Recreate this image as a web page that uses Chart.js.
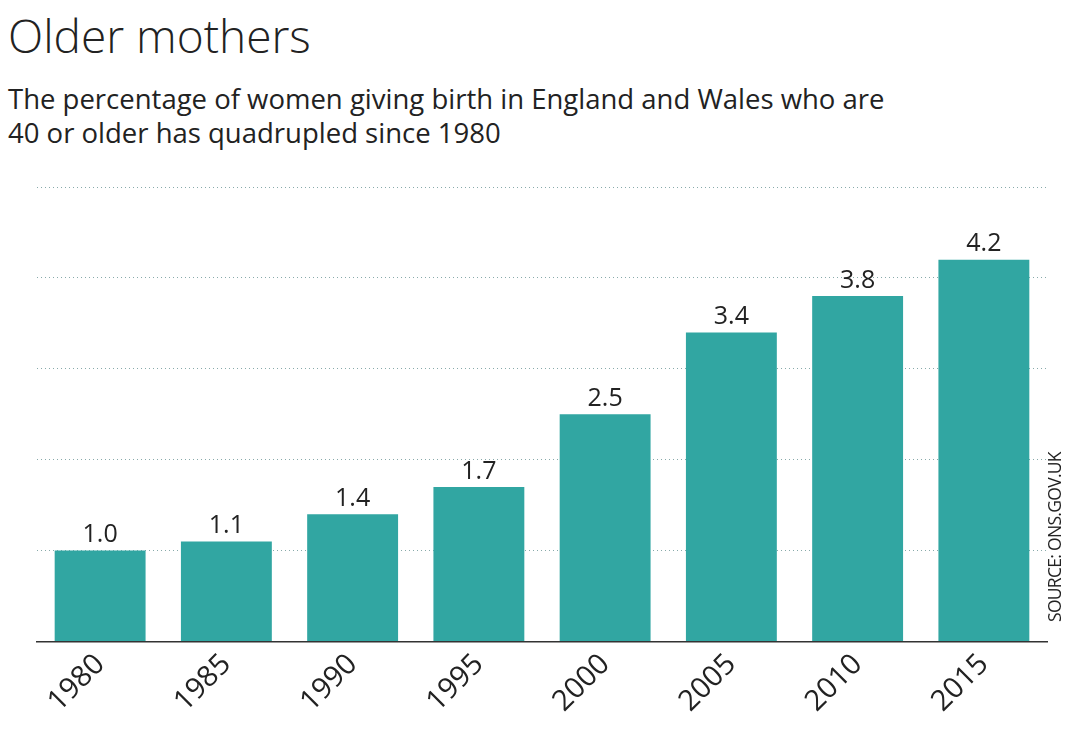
<!DOCTYPE html>
<html><head><meta charset="utf-8">
<script src="https://cdn.jsdelivr.net/npm/chart.js@4"></script>
<style>
body{margin:0;background:#fff;font-family:"Open Sans",sans-serif;color:#222;}
#wrap{position:relative;width:1075px;height:755px;}
h1{position:absolute;left:8px;top:4px;margin:0;font-weight:300;font-size:46px;color:#222;}
.sub{position:absolute;left:8px;top:82px;font-size:27.5px;line-height:34px;color:#222;}
.src{position:absolute;left:1042px;top:622px;transform:rotate(-90deg);transform-origin:0 0;font-size:17.5px;color:#222;white-space:nowrap;letter-spacing:-0.7px;}
#c{position:absolute;left:0;top:0;}
</style></head><body>
<div id="wrap">
<h1>Older mothers</h1>
<div class="sub">The percentage of women giving birth in England and Wales who are<br>40 or older has quadrupled since 1980</div>
<canvas id="c" width="1075" height="755"></canvas>
<div class="src">SOURCE: ONS.GOV.UK</div>
</div>
<script>
const years = ['1980', '1985', '1990', '1995', '2000', '2005', '2010', '2015'];
const shares = [1.0, 1.1, 1.4, 1.7, 2.5, 3.4, 3.8, 4.2];

// Value labels above bars
const valueLabels = {
  id: 'valueLabels',
  afterDatasetsDraw(chart) {
    const ctx = chart.ctx;
    ctx.save();
    ctx.font = '25px "Open Sans"';
    ctx.fillStyle = '#222';
    ctx.textAlign = 'center';
    ctx.textBaseline = 'bottom';
    chart.getDatasetMeta(0).data.forEach((bar, i) => {
      ctx.fillText(shares[i].toFixed(1), bar.x, bar.y - 3);
    });
    ctx.restore();
  },
};

new Chart(document.getElementById('c'), {
  type: 'bar',
  data: { labels: years, datasets: [{ data: shares, backgroundColor: '#31a6a2', categoryPercentage: 1, barPercentage: 0.72 }] },
  options: {
    responsive: false,
    animation: false,
    layout: { padding: { left: 37, right: 28, top: 187, bottom: 30 } },
    plugins: { legend: { display: false }, tooltip: { enabled: false } },
    scales: {
      x: {
        grid: { display: false, drawTicks: false },
        border: { color: '#333', width: 1.5 },
        ticks: { color: '#222', font: { size: 29, family: 'Open Sans' }, maxRotation: 45, minRotation: 45, padding: 6 },
      },
      y: {
        min: 0, max: 5,
        position: 'left',
        ticks: { display: false, stepSize: 1 },
        border: { display: false, dash: [1, 3] },
        grid: { color: '#8aa', lineWidth: 1, drawTicks: false },
      },
    },
  },
  plugins: [valueLabels],
});
</script>
</body></html>
